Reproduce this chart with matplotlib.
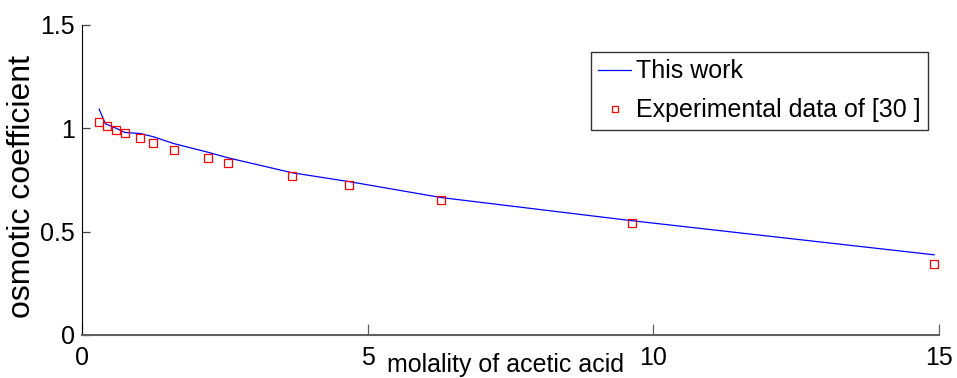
import numpy as np
import matplotlib

matplotlib.use('Agg')
import matplotlib.pyplot as plt

# experimental osmotic coefficients of acetic acid solutions
m_exp = [0.30, 0.44, 0.60, 0.75, 1.02, 1.24, 1.61, 2.21, 2.56, 3.68, 4.68, 6.29, 9.63, 14.92]
phi_exp = [1.030, 1.010, 0.990, 0.977, 0.953, 0.929, 0.895, 0.856, 0.832, 0.769, 0.726, 0.653, 0.542, 0.343]

# model curve
m_model = [0.30, 0.41, 0.60, 0.75, 1.02, 1.24, 1.61, 2.21, 2.56, 3.68, 4.68, 6.29, 9.63, 14.92]
phi_model = [1.093, 1.022, 1.000, 0.980, 0.975, 0.960, 0.926, 0.884, 0.857, 0.785, 0.742, 0.665, 0.553, 0.388]

plt.rcParams['font.family'] = ['Liberation Sans', 'DejaVu Sans']

fig = plt.figure(figsize=(9.57, 3.78), dpi=100)
W, H = 957, 378
ax = fig.add_axes([82 / W, (H - 335) / H, (938.7 - 82) / W, (335 - 25) / H])

ax.plot(m_model, phi_model, '-', color='#0000ff', linewidth=0.9, label='This work')
ax.plot(m_exp, phi_exp, 's', color='none', markeredgecolor='#ff0000',
        markerfacecolor='none', markersize=6, markeredgewidth=0.9,
        label='Experimental data of [30 ]')

ax.set_xlim(0, 15)
ax.set_ylim(0, 1.5)
ax.set_xticks([0, 5, 10, 15])
ax.set_yticks([0, 0.5, 1, 1.5])
ax.set_xticklabels(['0', '5', '10', '15'])
ax.set_yticklabels(['0', '0.5', '1', '1.5'])

for s in ['top', 'right']:
    ax.spines[s].set_visible(False)
ax.spines['left'].set_color('black')
ax.spines['left'].set_linewidth(0.8)
ax.spines['bottom'].set_color('#606060')
ax.spines['bottom'].set_linewidth(1.5)

ax.tick_params(axis='x', direction='in', length=8, width=0.9, color='#606060',
               pad=8, labelsize=18)
ax.tick_params(axis='y', direction='in', length=6, width=0.9, color='#404040',
               pad=5, labelsize=18)

ax.set_ylabel('osmotic coefficient', fontsize=23)
ax.yaxis.label.set_va('center')
ax.yaxis.set_label_coords((22 - 82) / 856.7, 0.48)
ax.set_xlabel('molality of acetic acid', fontsize=18)
ax.xaxis.label.set_va('baseline')
ax.xaxis.set_label_coords(0.494, (335 - 372) / 310)

leg = ax.legend(loc='upper right', bbox_to_anchor=((928 - 82) / 856.7, (335 - 52) / 310),
                prop={'size': 18}, frameon=True, fancybox=False,
                handlelength=1.3, handletextpad=0.2, borderpad=0.3,
                labelspacing=0.6, borderaxespad=0, markerscale=0.75)
leg.get_frame().set_edgecolor('black')
leg.get_frame().set_linewidth(1.0)

fig.savefig('out.png', dpi=100)
